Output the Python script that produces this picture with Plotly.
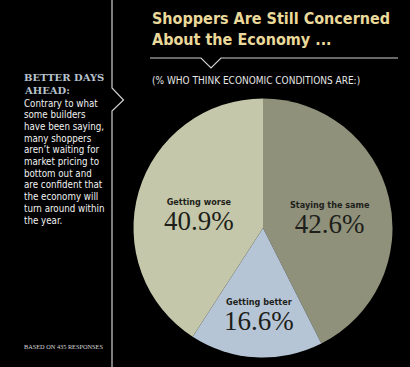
import math
import plotly.graph_objects as go

W, H = 410, 367

categories = ["Staying the same", "Getting better", "Getting worse"]
values = [42.6, 16.6, 40.9]
colors = ["#8f917b", "#b5c5d5", "#c4c7a9"]

title_lines = ["Shoppers Are Still Concerned", "About the Economy ..."]
subtitle = "(% WHO THINK ECONOMIC CONDITIONS ARE:)"
side_head = ["BETTER DAYS", "AHEAD:"]
side_body = ["Contrary to what", "some builders", "have been saying,", "many shoppers",
             "aren\u2019t waiting for", "market pricing to", "bottom out and",
             "are confident that", "the economy will", "turn around within", "the year."]
footnote = "BASED ON 435 RESPONSES"

NARROW = "DejaVu Sans Condensed, Liberation Sans Narrow, Arial Narrow, sans-serif"
SERIF = "Liberation Serif, DejaVu Serif, serif"


def px(x):
    return x / W


def py(y):
    return 1 - y / H


def path(points):
    return "M " + " L ".join(f"{px(x):.5f},{py(y):.5f}" for x, y in points)


# pie geometry (pixels)
cx, cy, r = 263, 228, 129.5
label_radius = [0.53, 0.63, 0.515]  # fraction of radius where each slice label sits

fig = go.Figure(go.Pie(
    labels=categories,
    values=values,
    sort=False,
    direction="clockwise",
    rotation=0,
    marker=dict(colors=colors, line=dict(width=0)),
    textinfo="none",
    hoverinfo="skip",
    showlegend=False,
    domain=dict(x=[px(cx - r), px(cx + r)], y=[py(cy + r), py(cy - r)]),
))

annotations = []

# slice labels placed along each slice's bisector (derived from the data)
total = sum(values)
cum = 0.0
for c, v, f in zip(categories, values, label_radius):
    mid = (cum + v / 2) / total * 2 * math.pi
    cum += v
    lx = cx + f * r * math.sin(mid)
    ly = cy - f * r * math.cos(mid)
    txt = (f"<span style='font-size:9px;font-family:DejaVu Sans Condensed, sans-serif;font-weight:bold'>{c}</span>"
           f"<br><span style='font-size:27px'>{v}%</span>")
    annotations.append(dict(x=px(lx), y=py(ly), xref="paper", yref="paper", text=txt,
                            showarrow=False, xanchor="center", yanchor="middle", align="center",
                            yshift=-7,
                            font=dict(family=SERIF, size=19, color="#1e1e1a")))

for i, line in enumerate(title_lines):
    annotations.append(dict(x=px(150), y=py(18 + i * 21), xref="paper", yref="paper",
                            text=f"<b>{line}</b>", showarrow=False, xanchor="left", yanchor="middle",
                            font=dict(family=NARROW, size=16, color="#ead99a")))
annotations.append(dict(x=px(150), y=py(80), xref="paper", yref="paper", text=subtitle,
                        showarrow=False, xanchor="left", yanchor="middle",
                        font=dict(family=NARROW, size=10, color="#e6e6e6")))
for i, line in enumerate(side_head):
    annotations.append(dict(x=px(22), y=py(77 + i * 13), xref="paper", yref="paper",
                            text=f"<b>{line}</b>", showarrow=False, xanchor="left", yanchor="middle",
                            font=dict(family="DejaVu Serif, serif", size=10, color="#b8c3cf")))
for i, line in enumerate(side_body):
    annotations.append(dict(x=px(22), y=py(103 + i * 11.7), xref="paper", yref="paper",
                            text=line, showarrow=False, xanchor="left", yanchor="middle",
                            font=dict(family=NARROW, size=9.7, color="#f2f2f2")))
annotations.append(dict(x=px(22), y=py(346), xref="paper", yref="paper", text=footnote,
                        showarrow=False, xanchor="left", yanchor="middle",
                        font=dict(family=SERIF, size=6.3, color="#d8d8d8")))

shapes = [
    dict(type="path", xref="paper", yref="paper",
         path=path([(112, 0), (112, 88), (123.5, 100), (112, 111), (112, 367)]),
         line=dict(color="#d0d0d0", width=1.2)),
    dict(type="path", xref="paper", yref="paper",
         path=path([(150, 58), (201, 58), (211, 68), (221, 58), (398, 58)]),
         line=dict(color="#d0d0d0", width=1.2)),
]

fig.update_layout(
    width=W, height=H,
    margin=dict(l=0, r=0, t=0, b=0),
    paper_bgcolor="#000000",
    plot_bgcolor="#000000",
    annotations=annotations,
    shapes=shapes,
)

fig.write_html("out.html",
               config={"displayModeBar": False},
               post_script="document.body.style.margin='0';document.body.style.padding='0';"
                           "document.body.style.background='#000';")
